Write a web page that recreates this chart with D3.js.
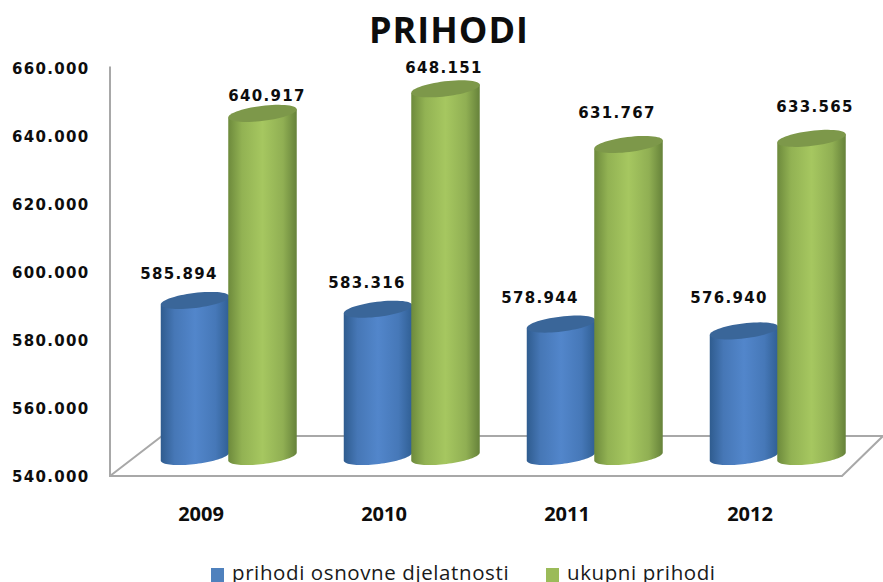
<!DOCTYPE html>
<html><head><meta charset="utf-8">
<script src="https://cdnjs.cloudflare.com/ajax/libs/d3/7.8.5/d3.min.js"></script>
<style>html,body{margin:0;padding:0;background:#fff}svg{display:block}</style></head>
<body><svg id="c" width="883" height="582"></svg>
<script>
const years=["2009","2010","2011","2012"];
const seriesNames=["prihodi osnovne djelatnosti","ukupni prihodi"];
const osnovni=[585.894,583.316,578.944,576.940];
const ukupni=[640.917,648.151,631.767,633.565];
const yTicks=[540,560,580,600,620,640,660];
const fmt=v=>v.toFixed(3);
const svg=d3.select("#c");
const W=883;
const yBar=d3.scaleLinear().domain([540,660]).range([456.5,48.5]);
const yAxisS=d3.scaleLinear().domain([540,660]).range([476,68.5]);
const x0=d3.scaleBand().domain(years).range([137.5,869.5]);
const x1=d3.scalePoint().domain(["a","b"]).range([-34,33.5]);
const defs=svg.append("defs");
function grad(id,edge,mid,edge2){
  const g=defs.append("linearGradient").attr("id",id).attr("x1","0%").attr("x2","100%").attr("y1","0%").attr("y2","0%");
  [[0,edge],[0.2,d3.interpolateRgb(edge,mid)(0.65)],[0.5,mid],[0.8,d3.interpolateRgb(edge2,mid)(0.65)],[1,edge2]]
   .forEach(([o,c])=>g.append("stop").attr("offset",o).attr("stop-color",c));
}
grad("gBlue","#2f5c8f","#5286cb","#305f94");
grad("gGreen","#6d8a3c","#a6c760","#66823a");
// floor and axis
const floorL=110,floorR=842,floorY=yAxisS(540),backY=floorY-40;
const stroke="#a8a8a8";
svg.append("path").attr("d",`M${floorL},${yAxisS(660)-2}V${floorY}H${floorR}L${W},${backY}`).attr("fill","none").attr("stroke",stroke).attr("stroke-width",2);
svg.append("path").attr("d",`M${floorL},${floorY}L${floorL+52},${backY}H${W}`).attr("fill","none").attr("stroke",stroke).attr("stroke-width",2);
// y labels
svg.append("g").selectAll("text").data(yTicks).join("text")
 .attr("x",12).attr("y",d=>yAxisS(d)+5.5)
 .attr("font-family","DejaVu Sans").attr("font-weight","bold").attr("font-size",15).attr("letter-spacing",1.3).attr("fill","#0d0d0d")
 .text(d=>fmt(d));
// x labels
svg.append("g").selectAll("text").data(years).join("text")
 .attr("x",d=>x0(d)+x0.bandwidth()/2-28).attr("y",521).attr("text-anchor","middle")
 .attr("font-family","Open Sans").attr("font-weight","bold").attr("font-size",20).attr("fill","#0d0d0d").text(d=>d);
// cylinders
const rx=34.5,ry=7.5,theta=-7*Math.PI/180;
const ell=(cx,cy,t)=>[cx+rx*Math.cos(t)*Math.cos(theta)-ry*Math.sin(t)*Math.sin(theta),
                      cy+rx*Math.cos(t)*Math.sin(theta)+ry*Math.sin(t)*Math.cos(theta)];
const line=d3.line();
function cyl(cx,v,fill,top,group){
  const yt=yBar(v),yb=yBar(540);
  const bottom=d3.range(0,41).map(k=>ell(cx,yb,Math.PI*(1-k/40)));
  const pts=[ell(cx,yt,Math.PI),...bottom,ell(cx,yt,0)];
  group.append("path").attr("d",line(pts)+"Z").attr("fill",`url(#${fill})`);
  const ring=d3.range(0,61).map(k=>ell(cx,yt,2*Math.PI*k/60));
  group.append("path").attr("d",line(ring)+"Z").attr("fill",top);
}
const gBars=svg.append("g");
years.forEach((yr,i)=>{
  const c=x0(yr)+x0.bandwidth()/2;
  const g=gBars.append("g");
  cyl(c+x1("a"),osnovni[i],"gBlue","#3a6699",g);
  cyl(c+x1("b"),ukupni[i],"gGreen","#7d984a",g);
});
// value labels
const lab=(arr,dx,dy)=>svg.append("g").selectAll("text").data(arr).join("text")
 .attr("x",(d,i)=>x0(years[i])+x0.bandwidth()/2+dx[i])
 .attr("y",(d,i)=>yBar(d)+dy[i])
 .attr("text-anchor","middle").attr("font-family","DejaVu Sans").attr("font-weight","bold").attr("font-size",15).attr("letter-spacing",1.3).attr("fill","#0d0d0d")
 .text(d=>fmt(d));
lab(osnovni,[-50,-45,-55,-49],[-21,-21,-21,-28]);
lab(ukupni,[38,32,22,37],[-12,-16,-26.5,-26]);
// title
svg.append("text").attr("x",449).attr("y",43).attr("text-anchor","middle").attr("font-family","Open Sans").attr("font-weight","bold").attr("font-size",36).attr("letter-spacing",1).attr("fill","#0d0d0d").text("PRIHODI");
// legend
const lg=svg.append("g");
const legX=[211,546],legC=["#4f81bd","#9bbb59"];
seriesNames.forEach((n,i)=>{
  lg.append("rect").attr("x",legX[i]).attr("y",568).attr("width",13).attr("height",14).attr("fill",legC[i]);
  lg.append("text").attr("x",legX[i]+21).attr("y",580).attr("font-family","Open Sans").attr("font-size",20.5).attr("letter-spacing",0.6).attr("fill","#1a1a1a").text(n);
});
</script></body></html>
